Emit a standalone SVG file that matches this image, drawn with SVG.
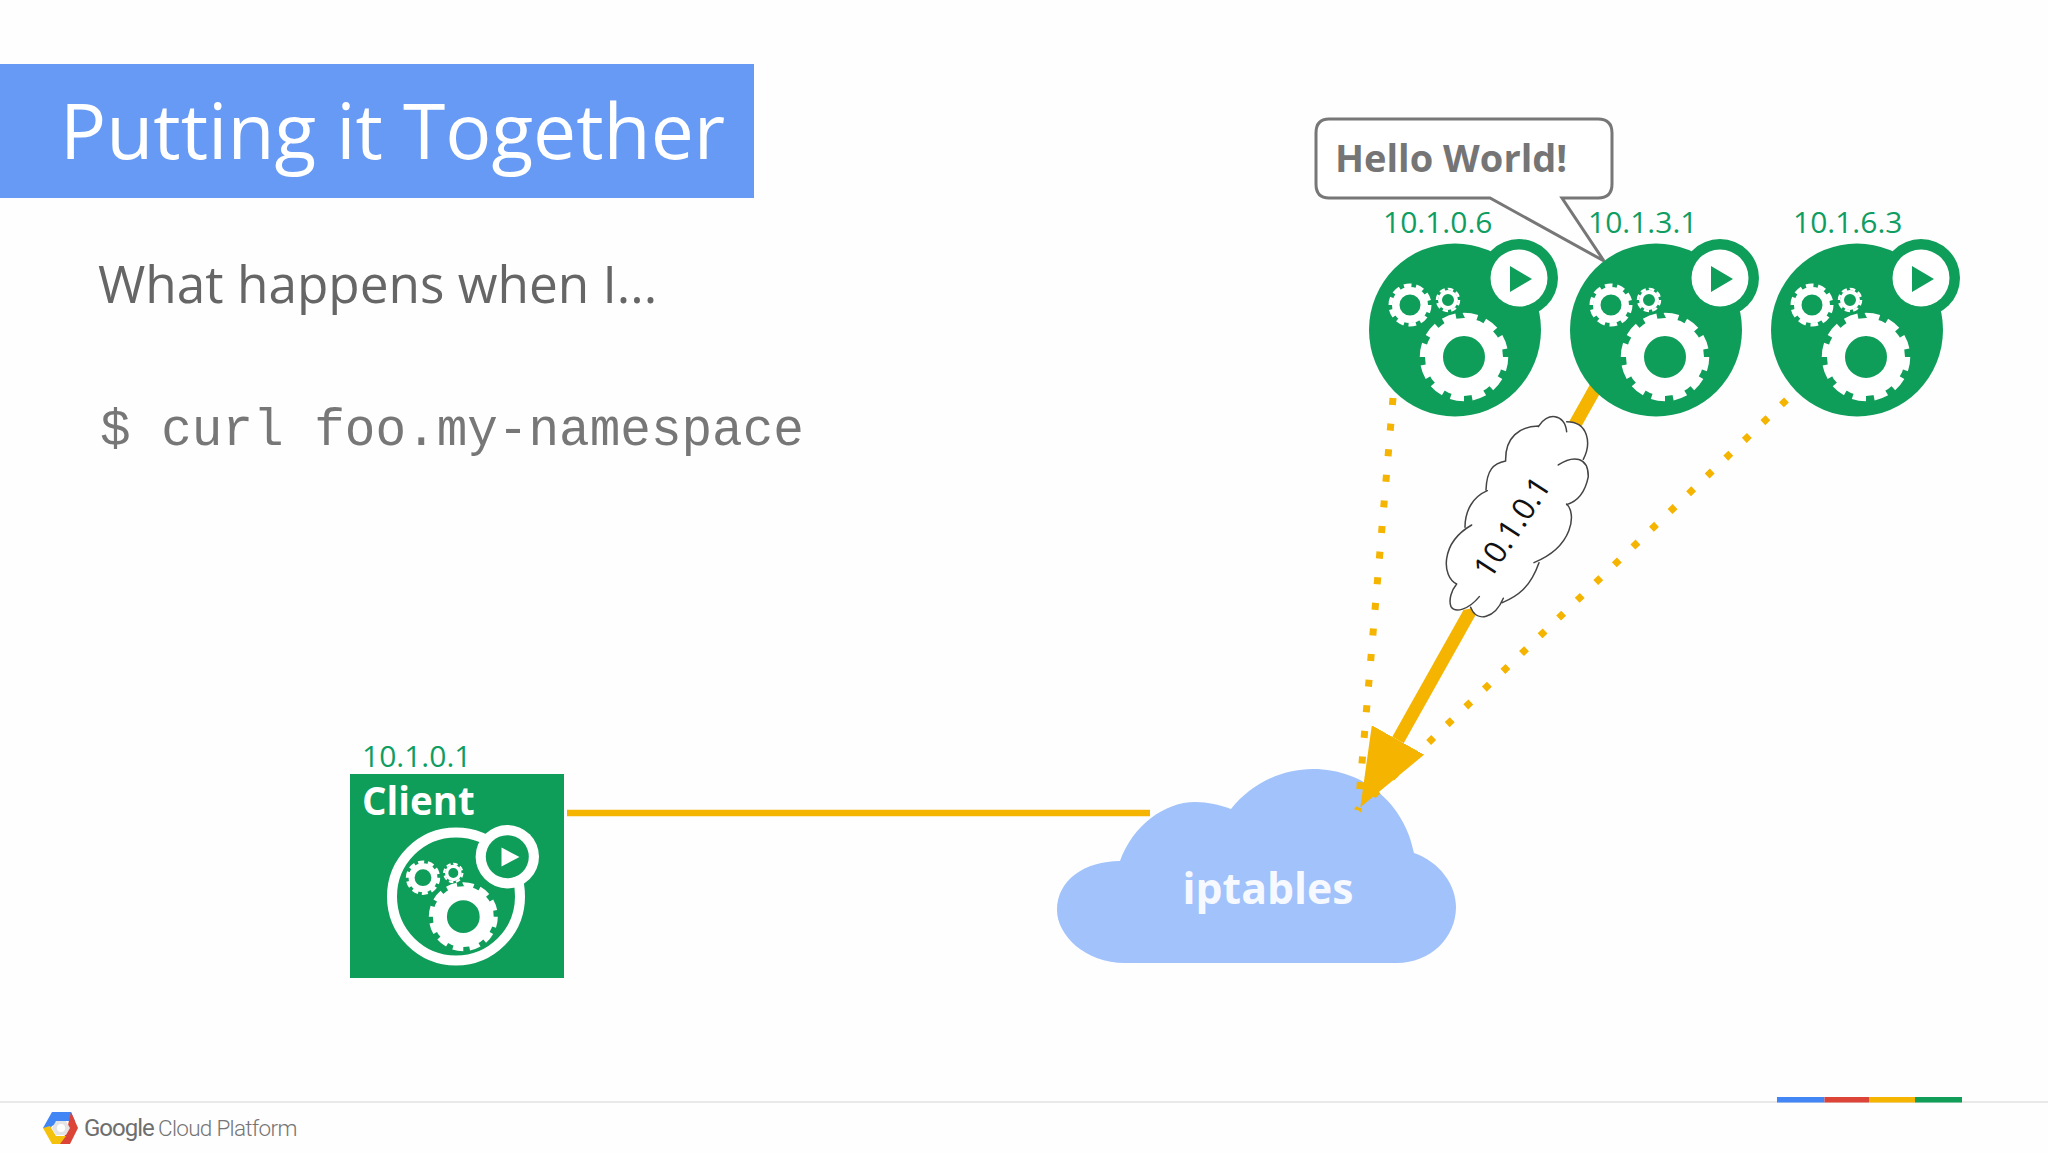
<svg xmlns="http://www.w3.org/2000/svg" xmlns:xlink="http://www.w3.org/1999/xlink" width="2048" height="1153" viewBox="0 0 2048 1153">
<style>
text{font-family:"Open Sans","Noto Sans","Liberation Sans",sans-serif}
.ip{font-size:30px;fill:#0f9d62}
.b{font-weight:700}
.gw{fill:none;stroke:#fff}
.dot{fill:none;stroke:#f4b400;stroke-width:7;stroke-dasharray:7 18.700}
.lobe{fill:none;stroke:#444;stroke-width:4.500;stroke-linecap:round}
</style>
<defs>
<marker id="head" markerUnits="userSpaceOnUse" viewBox="0 -30 77 60" markerWidth="77" markerHeight="60" refX="0" refY="0" orient="auto"><polygon points="0,-30 77,0 0,30" fill="#f4b400"/></marker>
<g id="gear-big">
<circle r="30" stroke-width="18" class="gw"/>
<circle r="41" stroke-width="6.500" class="gw" pathLength="24" stroke-dasharray="1.250 .75"/>
</g>
<g id="gear-a">
<circle r="14.250" stroke-width="7.500" class="gw"/>
<circle r="19.500" stroke-width="4" class="gw" pathLength="20" stroke-dasharray="1.250 .75"/>
</g>
<g id="gear-b">
<circle r="8" stroke-width="4" class="gw"/>
<circle r="11" stroke-width="2.500" class="gw" pathLength="16" stroke-dasharray="1.250 .75"/>
</g>
<g id="pod">
<circle cx="1519" cy="278" r="39" fill="#0f9d5a"/>
<ellipse cx="1455" cy="330" rx="86" ry="86.500" fill="#0f9d5a"/>
<circle cx="1519" cy="278" r="28.500" fill="#fff"/>
<polygon points="1510,266 1532,279 1510,292" fill="#0f9d5a"/>
<use xlink:href="#gear-a" href="#gear-a" x="1410" y="305"/>
<use xlink:href="#gear-b" href="#gear-b" x="1448" y="300"/>
<use xlink:href="#gear-big" href="#gear-big" x="1464" y="357"/>
</g>
</defs>
<rect width="2048" height="1153" fill="#fefefe"/>

<g id="title">
<rect x="0" y="64" width="754" height="134" fill="#669af5"/>
<text x="60" y="159" font-size="76.800" fill="#fff">Putting it Together</text>
</g>
<text id="subtitle" x="98" y="303" font-size="51.300" fill="#666">What happens when I...</text>
<text id="command" x="100" y="445" font-size="51" fill="#777" style="font-family:'Liberation Mono',monospace">$ curl foo.my-namespace</text>

<g id="iptables">
<path d="M1125 963C1085 963 1057 935 1057 910C1057 880 1085 861 1120 861C1133 825 1165 802 1195 802C1208 802 1220 805 1231 809C1250 785 1280 769 1313 769C1365 769 1405 805 1414 853C1440 862 1456 885 1456 907C1456 938 1430 963 1397 963Z" fill="#a1c2fa"/>
<text x="1268" y="904" font-size="42.700" class="b" fill="#f6f9ff" text-anchor="middle">iptables</text>
</g>

<g id="connectors" fill="none">
<line x1="567" y1="813" x2="1150" y2="813" stroke="#f4b400" stroke-width="6.500"/>
<line class="dot" x1="1393" y1="398" x2="1358" y2="810"/>
<line class="dot" x1="1786.500" y1="400" x2="1358" y2="810"/>
<line x1="1600" y1="380" x2="1398" y2="740" stroke="#f4b400" stroke-width="13" marker-end="url(#head)"/>
</g>

<g id="callout">
<path d="M1329 119H1598Q1612 119 1612 133V184Q1612 198 1598 198H1562L1604 261L1490 198H1329Q1316 198 1316 184V133Q1316 119 1329 119Z" fill="#fff" stroke="#777" stroke-width="3"/>
<text x="1335" y="172" font-size="38" class="b" fill="#757575">Hello World!</text>
</g>

<g id="pod1"><use xlink:href="#pod" href="#pod"/><text class="ip" x="1383" y="233">10.1.0.6</text></g>
<g id="pod2"><use xlink:href="#pod" href="#pod" x="201"/><text class="ip" x="1588" y="233">10.1.3.1</text></g>
<g id="pod3"><use xlink:href="#pod" href="#pod" x="402"/><text class="ip" x="1793" y="233">10.1.6.3</text></g>

<g id="service-cloud">
<g transform="translate(1340 380) scale(.3333)">
<path d="M345 612C305 590 305 490 380 440C375 390 400 350 440 332C440 280 460 250 497 238C495 180 540 140 595 135C620 95 670 100 682 125C745 125 750 190 730 238C750 245 750 290 745 300C735 340 710 365 685 378C705 410 690 500 590 548C570 625 530 650 488 665C465 715 410 725 392 685C350 700 320 680 335 650Z" fill="#fff"/>
<path class="lobe" d="M350 612C305 590 300 490 395 435M375 442C375 390 400 350 442 332M438 330C440 270 460 250 497 243M497 243C495 170 540 140 595 138M595 140C620 95 675 100 680 155M680 125C745 125 755 190 730 238M655 255C700 225 745 230 745 290C735 340 710 365 680 374M680 372C710 400 700 500 582 548M597 548C570 625 530 650 487 668M490 655C465 715 410 730 392 682M418 650C385 690 345 700 333 680C325 660 335 630 350 612"/>
</g>
<text transform="translate(1521 533) rotate(-57)" font-size="31" fill="#111" text-anchor="middle">10.1.0.1</text>
</g>

<g id="client">
<text class="ip" x="362" y="767">10.1.0.1</text>
<rect x="350" y="774" width="214" height="204" fill="#0f9d5a"/>
<text x="362" y="815" font-size="38.500" class="b" fill="#fff">Client</text>
<circle cx="456" cy="896.500" r="64" fill="none" stroke="#fff" stroke-width="10"/>
<circle cx="507.300" cy="856.700" r="31.700" fill="#fff"/>
<circle cx="507.300" cy="856.700" r="21.500" fill="#0f9d5a"/>
<polygon points="501.500,847.500 519.500,857 501.500,866.500" fill="#fff"/>
<use xlink:href="#gear-a" href="#gear-a" x="423" y="877.700" transform="translate(423 877.700) scale(.8) translate(-423 -877.700)"/>
<use xlink:href="#gear-b" href="#gear-b" x="453.300" y="873" transform="translate(453.300 873) scale(.83) translate(-453.300 -873)"/>
<use xlink:href="#gear-big" href="#gear-big" x="463.300" y="916.700" transform="translate(463.300 916.700) scale(.78) translate(-463.300 -916.700)"/>
</g>

<g id="footer">
<line x1="0" y1="1102" x2="2048" y2="1102" stroke="#e9e9e9" stroke-width="2"/>
<rect x="1777" y="1097" width="47.500" height="5.500" fill="#4285f4"/>
<rect x="1824.500" y="1097" width="44.500" height="5.500" fill="#db4437"/>
<rect x="1869" y="1097" width="46" height="5.500" fill="#f4b400"/>
<rect x="1915" y="1097" width="47" height="5.500" fill="#0f9d58"/>
<g id="logo">
<polygon points="43,1128 52,1112 71,1112 75,1121 62,1121 52,1126 50,1129" fill="#4285f4"/>
<polygon points="71,1112 78,1128 70,1144 58,1144 66,1134 68,1125" fill="#db4437"/>
<polygon points="43,1128 50,1126 56,1136 66,1136 60,1144 52,1144" fill="#f4c20d"/>
<polygon points="52,1128 56,1121 66,1121 70,1128 66,1135 56,1135" fill="#e4e4e4"/>
<circle cx="61" cy="1128" r="4" fill="#fff"/>
</g>
<text x="84" y="1136" font-size="24" fill="#6e6e6e" style="font-family:Roboto,'Open Sans',sans-serif" letter-spacing="-1">Google</text>
<text x="158" y="1136" font-size="22.500" fill="#757575" style="font-family:Roboto,'Open Sans',sans-serif;font-weight:300" letter-spacing="-.7">Cloud Platform</text>
</g>
</svg>
